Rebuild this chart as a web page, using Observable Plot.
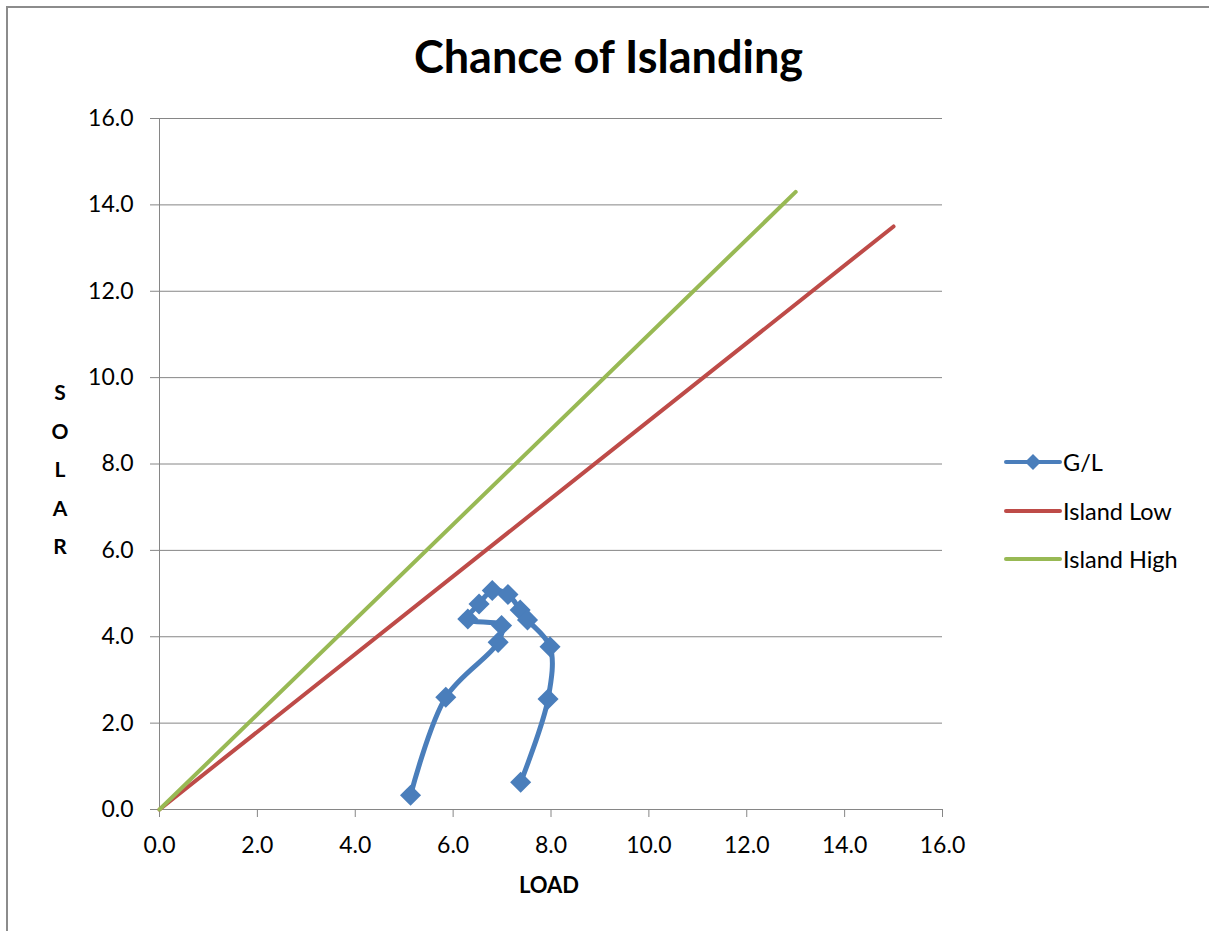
<!DOCTYPE html>
<html><head><meta charset="utf-8">
<script src="https://cdn.jsdelivr.net/npm/d3@7"></script>
<script src="https://cdn.jsdelivr.net/npm/@observablehq/plot@0.6"></script>
<style>
html,body{margin:0;padding:0;background:#fff;overflow:hidden;}
#wrap{position:relative;width:1209px;height:931px;font-family:Lato,"Open Sans",sans-serif;color:#000;}
#frame{position:absolute;left:6px;top:6px;width:1400px;height:1200px;border:2px solid #8c8c8c;box-sizing:border-box;}
#chart{position:absolute;left:0;top:0;}
#title{position:absolute;left:0;width:1217px;top:29px;text-align:center;font-weight:bold;font-size:45px;}
#ylab{position:absolute;left:49px;top:373px;width:22px;text-align:center;font-weight:bold;font-size:21px;line-height:38.5px;}
#xlab{position:absolute;left:490px;width:118px;top:871px;text-align:center;font-weight:bold;font-size:22px;}
#legend{position:absolute;left:1004px;top:438px;font-size:23.5px;}
.item{display:flex;align-items:center;height:48.5px;}
.item svg{margin-right:1px;}
</style></head><body>
<div id="wrap">
 <div id="frame"></div>
 <div id="chart"></div>
 <div id="title">Chance of Islanding</div>
 <div id="ylab"></div>
 <div id="xlab">LOAD</div>
 <div id="legend"></div>
</div>
<script>
// G/L series (LOAD, SOLAR)
const glLoad  = [5.13, 5.85, 6.92, 6.99, 6.30, 6.53, 6.80, 7.12, 7.37, 7.52, 7.98, 7.94, 7.38];
const glSolar = [0.33, 2.60, 3.87, 4.26, 4.41, 4.76, 5.07, 4.98, 4.62, 4.39, 3.77, 2.56, 0.63];
// Island Low
const lowLoad  = [0, 15];
const lowSolar = [0, 13.5];
// Island High
const highLoad  = [0, 13];
const highSolar = [0, 14.3];
// axes
const xTicks = [0, 2, 4, 6, 8, 10, 12, 14, 16];
const yTicks = [0, 2, 4, 6, 8, 10, 12, 14, 16];
const seriesNames  = ["G/L", "Island Low", "Island High"];
const seriesColors = ["#4a7ebb", "#be4b48", "#98b954"];
const yLabelText = "SOLAR";

const gl   = glLoad.map((x, i) => ({x, y: glSolar[i]}));
const low  = lowLoad.map((x, i) => ({x, y: lowSolar[i]}));
const high = highLoad.map((x, i) => ({x, y: highSolar[i]}));
const fmt = d3.format(".1f");

const chart = Plot.plot({
  width: 1209, height: 931,
  marginLeft: 159, marginRight: 267, marginTop: 118, marginBottom: 122,
  style: {fontFamily: "Lato, 'Open Sans', sans-serif", fontSize: "23px", color: "#000", background: "transparent"},
  x: {domain: [0, 16]},
  y: {domain: [0, 16]},
  marks: [
    Plot.gridY(yTicks, {stroke: "#868686", strokeOpacity: 1, strokeWidth: 1}),
    Plot.axisY(yTicks, {tickSize: 9, tickPadding: 17, tickFormat: fmt, stroke: "#868686", label: null, fontSize: 23}),
    Plot.axisX(xTicks, {tickSize: 8, tickPadding: 19, tickFormat: fmt, stroke: "#868686", label: null, fontSize: 23}),
    Plot.ruleX([0], {stroke: "#868686", strokeWidth: 1}),
    Plot.ruleY([0], {stroke: "#868686", strokeWidth: 1}),
    Plot.line(gl, {x: "x", y: "y", stroke: seriesColors[0], strokeWidth: 5, curve: "catmull-rom"}),
    Plot.dot(gl, {x: "x", y: "y", symbol: "diamond2", r: 9.5, fill: seriesColors[0], stroke: null}),
    Plot.line(low, {x: "x", y: "y", stroke: seriesColors[1], strokeWidth: 4}),
    Plot.line(high, {x: "x", y: "y", stroke: seriesColors[2], strokeWidth: 4})
  ]
});
document.getElementById("chart").appendChild(chart);

document.getElementById("ylab").innerHTML = yLabelText.split("").join("<br>");

const legend = document.getElementById("legend");
seriesNames.forEach((name, i) => {
  const div = document.createElement("div");
  div.className = "item";
  const marker = i === 0 ? `<path d="M29,0 L37,8 L29,16 L21,8 Z" fill="${seriesColors[i]}"/>` : "";
  div.innerHTML = `<svg width="58" height="16"><line x1="2" y1="8" x2="56" y2="8" stroke="${seriesColors[i]}" stroke-width="4" stroke-linecap="round"/>${marker}</svg><span>${name}</span>`;
  legend.appendChild(div);
});
</script>
</body></html>
